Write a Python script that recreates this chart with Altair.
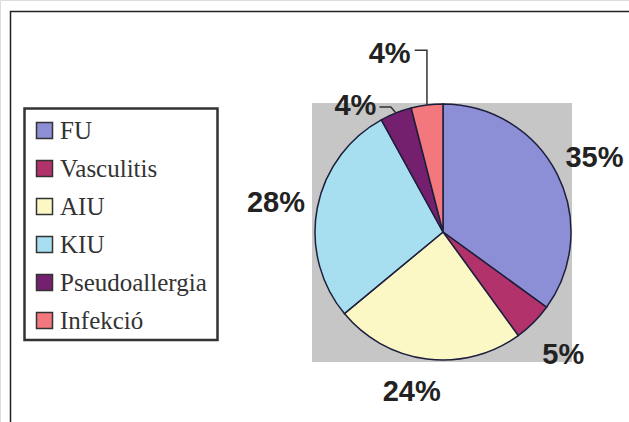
import math

import altair as alt
import pandas as pd

# Diagnosis shares (percent)
categories = ["FU", "Vasculitis", "AIU", "KIU", "Pseudoallergia", "Infekció"]
shares = [35, 5, 24, 28, 4, 4]
labels = ["35%", "5%", "24%", "28%", "4%", "4%"]
colors = ["#8d8fd6", "#b2336b", "#fbf8c6", "#a8dff0", "#74206f", "#f2787e"]

# Pie geometry (pixels)
CX, CY, R = 443, 232, 128
LABEL_R = 170
# labels of thin / crowded slices are pulled off their radial position
nudges = {"AIU": (-10, -12), "Pseudoallergia": (-25, 29), "Infekció": (-32, -12)}

total = sum(shares)
rows, start = [], 0
for i, (cat, val, lab) in enumerate(zip(categories, shares, labels)):
    mid = (start + val / 2) / total * 2 * math.pi
    start += val
    ndx, ndy = nudges.get(cat, (0, 0))
    rows.append(dict(
        category=cat, share=val, label=lab, order=i,
        lx=CX + LABEL_R * math.sin(mid) + ndx,
        ly=CY - LABEL_R * math.cos(mid) + ndy,
        ax=CX + R * math.sin(mid),
        ay=CY - R * math.cos(mid),
    ))
df = pd.DataFrame(rows)

# Leader lines from the moved small labels to their slices
lead = []
for _, r in df[df["category"].isin(["Pseudoallergia", "Infekció"])].iterrows():
    if r["category"] == "Infekció":
        pts = [(r["lx"] + 25, r["ly"] - 1), (r["ax"], r["ly"] - 1), (r["ax"], r["ay"])]
    else:
        pts = [(r["lx"] + 24, r["ly"] + 4), (r["ax"] - 5, r["ly"] + 4), (r["ax"], r["ay"])]
    for k, (x, y) in enumerate(pts):
        lead.append(dict(category=r["category"], step=k, x=x, y=y))
lead_df = pd.DataFrame(lead)

one = pd.DataFrame({"k": [0]})

frame = alt.Chart(one).mark_rect(
    fillOpacity=0, stroke="#222222", strokeWidth=1.5
).encode(x=alt.value(10.5), x2=alt.value(700), y=alt.value(11.5), y2=alt.value(500))

# box drawn under the legend entries
legend_box = alt.Chart(one).mark_rect(
    fill="white", stroke="#333333", strokeWidth=2.5
).encode(x=alt.value(24.5), x2=alt.value(217.5), y=alt.value(108.5), y2=alt.value(340))

plot_bg = alt.Chart(one).mark_rect(color="#c6c6c6").encode(
    x=alt.value(312), x2=alt.value(572), y=alt.value(103), y2=alt.value(362)
)

pie = alt.Chart(df).mark_arc(radius=R, stroke="#1d1f3c", strokeWidth=1.5).encode(
    theta=alt.Theta("share:Q", stack=True),
    order=alt.Order("order:Q"),
    color=alt.Color(
        "category:N",
        sort=categories,
        scale=alt.Scale(domain=categories, range=colors),
        legend=alt.Legend(
            title=None,
            orient="none",
            legendX=22,
            legendY=108,
            symbolType="square",
            symbolSize=256,
            symbolStrokeColor="#333333",
            symbolStrokeWidth=1.5,
            labelFont="Liberation Serif",
            labelFontSize=25,
            labelColor="#333333",
            labelOffset=3,
            rowPadding=12,
            padding=10,
        ),
    ),
    x=alt.value(CX),
    y=alt.value(CY),
)

leaders = alt.Chart(lead_df).mark_line(color="#333333", strokeWidth=1.5).encode(
    x=alt.X("x:Q", scale=None),
    y=alt.Y("y:Q", scale=None),
    detail="category:N",
    order="step:Q",
)

text = alt.Chart(df).mark_text(
    font="Liberation Sans", fontWeight="bold", fontSize=29, color="#222222",
    align="center", baseline="middle", dy=3,
).encode(
    x=alt.X("lx:Q", scale=None),
    y=alt.Y("ly:Q", scale=None),
    text="label:N",
)

chart = (
    alt.layer(frame, legend_box, plot_bg, pie, leaders, text)
    .properties(width=629, height=422, padding=0, autosize=alt.AutoSizeParams(type="none"))
    .configure_view(stroke=None)
    .configure(background="white")
)

chart.save("out.html", embed_options={"renderer": "svg", "actions": False})
